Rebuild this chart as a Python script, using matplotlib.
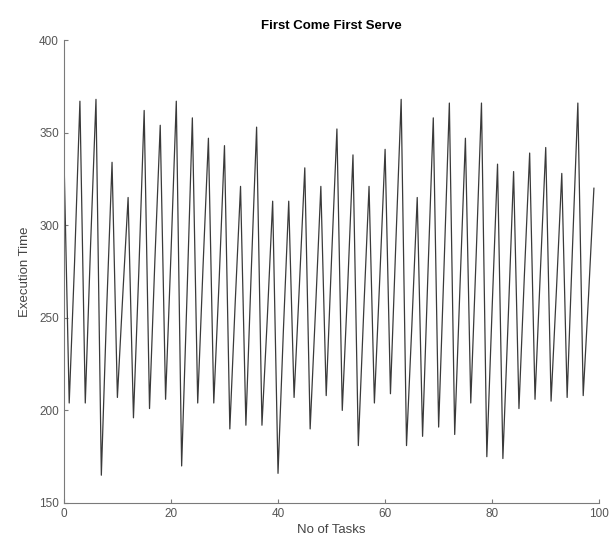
import numpy as np
import matplotlib.pyplot as plt

plt.rcParams['font.family'] = ['Liberation Sans', 'DejaVu Sans']

# Execution time per task (tasks 0..99)
tasks = np.arange(100)
exec_time = [
    340, 204, 280, 367, 204, 290, 368, 165, 255, 334,
    207, 262, 315, 196, 275, 362, 201, 281, 354, 206,
    284, 367, 170, 262, 358, 204, 278, 347, 204, 270,
    343, 190, 258, 321, 192, 275, 353, 192, 250, 313,
    166, 243, 313, 207, 268, 331, 190, 254, 321, 208,
    282, 352, 200, 266, 338, 181, 253, 321, 204, 271,
    341, 209, 290, 368, 181, 246, 315, 186, 274, 358,
    191, 277, 366, 187, 268, 347, 204, 283, 366, 175,
    256, 333, 174, 250, 329, 201, 272, 339, 206, 275,
    342, 205, 265, 328, 207, 288, 366, 208, 262, 320,
]

fig = plt.figure(figsize=(6.14, 5.42), dpi=100)
ax = fig.add_axes([0.104, 0.072, 0.872, 0.854])

ax.plot(tasks, exec_time, color='#3a3a3a', linewidth=0.9)

ax.set_xlim(0, 100)
ax.set_ylim(150, 400)
ax.set_xticks(range(0, 101, 20))
ax.set_yticks(range(150, 401, 50))

# MATLAB-like look: no box, inward ticks, grey axes
for side in ['top', 'right']:
    ax.spines[side].set_visible(False)
for side in ['left', 'bottom']:
    ax.spines[side].set_color('#7a7a7a')
    ax.spines[side].set_linewidth(0.8)
ax.tick_params(direction='in', length=3, colors='#7a7a7a',
               labelcolor='#555555', labelsize=8.5)

ax.set_title('First Come First Serve', fontsize=9.5, fontweight='bold', pad=8)
ax.set_xlabel('No of Tasks', fontsize=9.5, color='#444444', labelpad=3)
ax.set_ylabel('Execution Time', fontsize=9.5, color='#444444', labelpad=6)

plt.savefig('out.png', dpi=100)
